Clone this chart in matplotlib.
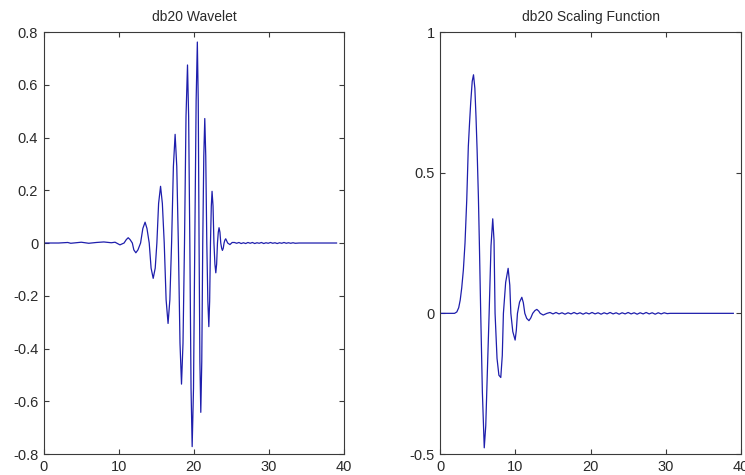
import matplotlib
matplotlib.use("Agg")
import matplotlib.pyplot as plt

plt.rcParams["font.family"] = ["Liberation Sans", "DejaVu Sans"]

# db20 wavelet (psi) sampled at its extrema, zero crossings and flank points
psi_x = [0.0, 2.0, 3.2, 3.6, 5.0, 6.0, 7.0, 8.0, 9.0, 9.5, 10.15, 10.7,
         11.0, 11.25, 11.5, 11.8, 12.0, 12.27, 12.55, 12.9,
         13.2, 13.5, 13.75, 14.05, 14.3, 14.58, 14.85, 15.07,
         15.3, 15.56, 15.8, 16.05, 16.3, 16.56, 16.8, 17.03,
         17.27, 17.5, 17.72, 17.93, 18.15, 18.35, 18.55, 18.75,
         18.95, 19.15, 19.3, 19.46, 19.62, 19.77, 19.95, 20.12,
         20.3, 20.46, 20.58, 20.69, 20.8, 20.92, 21.05, 21.18,
         21.32, 21.45, 21.58, 21.72, 21.86, 21.99, 22.1, 22.21,
         22.32, 22.42, 22.55, 22.67, 22.8, 22.92, 23.03, 23.14,
         23.25, 23.35, 23.47, 23.58, 23.7, 23.8, 23.91, 24.02,
         24.13, 24.24, 24.37, 24.5, 24.8, 25.1,
         25.4, 25.7, 26.0, 26.3, 26.6, 26.9, 27.2, 27.5, 27.8, 28.1,
         28.4, 28.7, 29.0, 29.3, 29.6, 29.9, 30.2, 30.5, 30.8, 31.1,
         31.4, 31.7, 32.0, 32.3, 32.6, 32.9, 33.2, 33.5, 34.0, 39.0]
psi_y = [0.0, 0.0, 0.002, -0.001, 0.003, -0.001, 0.002, 0.004, 0.001, 0.003, -0.007, 0.0,
         0.013, 0.02, 0.013, 0.0, -0.026, -0.037, -0.026, 0.0,
         0.055, 0.079, 0.055, 0.0, -0.095, -0.134, -0.095, 0.0,
         0.15, 0.215, 0.15, 0.0, -0.215, -0.305, -0.215, 0.0,
         0.29, 0.412, 0.29, 0.0, -0.38, -0.535, -0.38, 0.0,
         0.48, 0.675, 0.48, 0.0, -0.55, -0.772, -0.55, 0.0,
         0.54, 0.762, 0.54, 0.0, -0.45, -0.642, -0.45, 0.0,
         0.33, 0.472, 0.33, 0.0, -0.22, -0.317, -0.22, 0.0,
         0.14, 0.196, 0.14, 0.0, -0.08, -0.113, -0.08, 0.0,
         0.041, 0.058, 0.041, 0.0, -0.02, -0.028, -0.02, 0.0,
         0.011, 0.016, 0.008, 0.0, -0.006, 0.002,
         0.002, -0.001, 0.002, -0.002, 0.001, -0.002, 0.002, -0.001, 0.002, -0.002,
         0.001, -0.001, 0.002, -0.002, 0.001, -0.001, 0.002, -0.001, 0.001, -0.002,
         0.001, -0.001, 0.002, -0.001, 0.001, -0.001, 0.001, -0.001, 0.0, 0.0]

# db20 scaling function (phi)
phi_x = [0.0, 1.9, 2.2, 2.45, 2.65, 2.85, 3.07, 3.29, 3.52, 3.73, 3.9, 4.05,
         4.25, 4.42, 4.6, 4.75, 4.9, 5.07, 5.2, 5.38, 5.6, 5.85, 6.05,
         6.25, 6.5, 6.75, 6.98, 7.15, 7.29, 7.55, 7.8, 8.05, 8.25, 8.4,
         8.7, 9.03, 9.25, 9.39, 9.65, 9.96, 10.12, 10.27, 10.55, 10.85,
         11.05, 11.25, 11.5, 11.8, 12.05, 12.3, 12.6, 12.85, 13.1, 13.3,
         13.7, 14.2,
         14.6, 15.0, 15.4, 15.8, 16.2, 16.6, 17.0, 17.4, 17.8, 18.2,
         18.6, 19.0, 19.4, 19.8, 20.2, 20.6, 21.0, 21.4, 21.8, 22.2,
         22.6, 23.0, 23.4, 23.8, 24.2, 24.6, 25.0, 25.4, 25.8, 26.2,
         26.6, 27.0, 27.4, 27.8, 28.2, 28.6, 29.0, 29.4, 29.8, 30.2,
         30.6, 39.0]
phi_y = [0.0, 0.0, 0.005, 0.02, 0.047, 0.09, 0.154, 0.25, 0.403, 0.593, 0.68, 0.75,
         0.825, 0.848, 0.8, 0.7, 0.58, 0.415, 0.25, 0.0, -0.28, -0.478, -0.4,
         -0.22, 0.0, 0.24, 0.336, 0.26, 0.0, -0.16, -0.22, -0.228, -0.15, 0.0,
         0.11, 0.16, 0.1, 0.0, -0.065, -0.095, -0.06, 0.0, 0.04, 0.057,
         0.038, 0.0, -0.018, -0.026, -0.016, 0.0, 0.01, 0.014, 0.008, 0.0,
         -0.006, 0.0,
         0.003, -0.002, 0.003, -0.002, 0.002, -0.003, 0.002, -0.002, 0.003, -0.002,
         0.002, -0.003, 0.002, -0.002, 0.003, -0.002, 0.002, -0.003, 0.002, -0.002,
         0.003, -0.002, 0.002, -0.003, 0.002, -0.002, 0.003, -0.002, 0.002, -0.003,
         0.002, -0.002, 0.003, -0.002, 0.002, -0.003, 0.002, -0.002, 0.002, -0.001,
         0.0, 0.0]

x_ticks = [0, 10, 20, 30, 40]
psi_yticks = [0.8, 0.6, 0.4, 0.2, 0, -0.2, -0.4, -0.6, -0.8]
psi_ylabels = ["0.8", "0.6", "0.4", "0.2", "0", "-0.2", "-0.4", "-0.6", "-0.8"]
phi_yticks = [1, 0.5, 0, -0.5]
phi_ylabels = ["1", "0.5", "0", "-0.5"]

line_color = "#1e1eac"
edge_color = "#3a3a3a"
text_color = "#2a2a2a"

fig = plt.figure(figsize=(7.45, 4.75), dpi=100)
fig.patch.set_facecolor("white")

ax1 = fig.add_axes([0.0587, 0.0442, 0.4031, 0.8884])
ax2 = fig.add_axes([0.5910, 0.0442, 0.4034, 0.8884])


def style(ax, yticks, ylabels, ylim, title):
    ax.set_xlim(0, 40)
    ax.set_ylim(*ylim)
    ax.set_xticks(x_ticks)
    ax.set_xticklabels([str(t) for t in x_ticks])
    ax.set_yticks(yticks)
    ax.set_yticklabels(ylabels)
    ax.tick_params(direction="in", length=3.5, width=0.8, top=True, right=True,
                   colors=edge_color, labelcolor=text_color, labelsize=10.5, pad=4)
    for s in ax.spines.values():
        s.set_color(edge_color)
        s.set_linewidth(0.8)
    ax.set_title(title, fontsize=10, color=text_color, pad=8)


ax1.plot(psi_x, psi_y, color=line_color, linewidth=0.9)
style(ax1, psi_yticks, psi_ylabels, (-0.8, 0.8), "db20 Wavelet")

ax2.plot(phi_x, phi_y, color=line_color, linewidth=0.9)
style(ax2, phi_yticks, phi_ylabels, (-0.5, 1.0), "db20 Scaling Function")

fig.savefig("out.png", dpi=100, facecolor="white")
